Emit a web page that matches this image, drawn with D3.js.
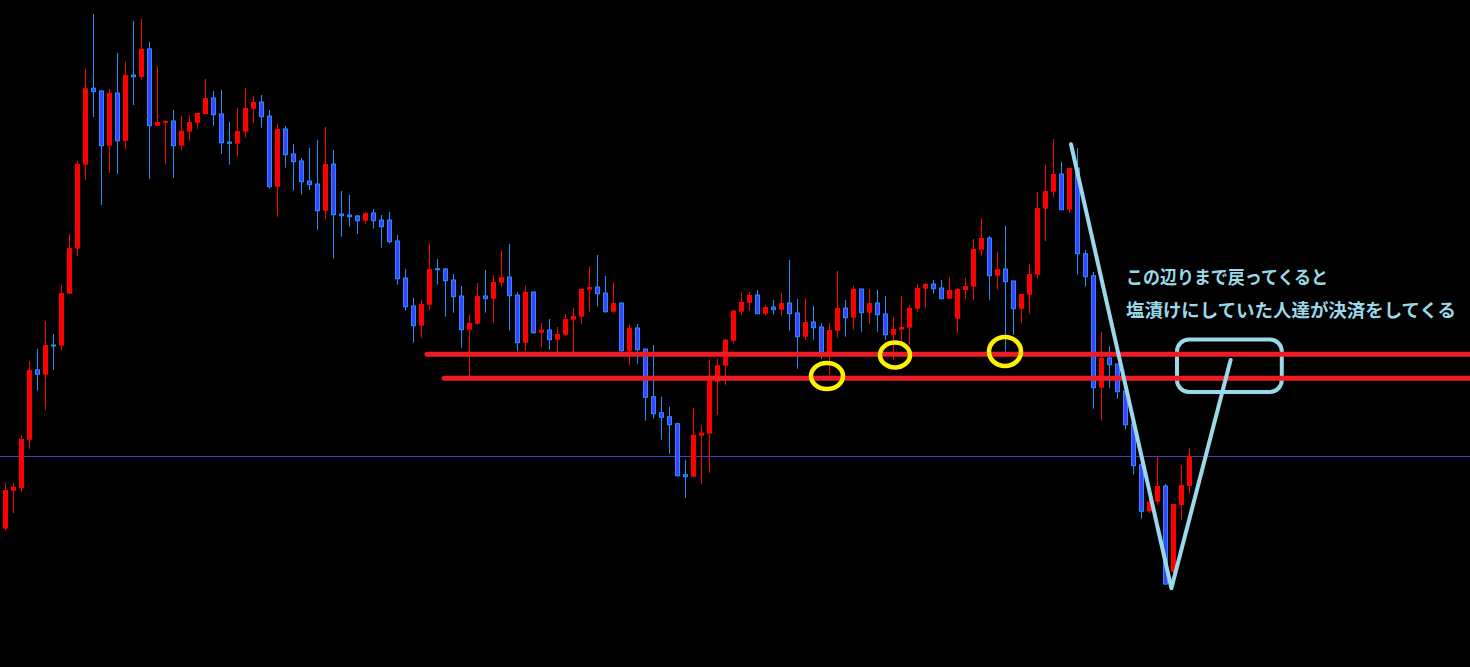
<!DOCTYPE html>
<html><head><meta charset="utf-8">
<script src="https://cdn.jsdelivr.net/npm/d3@7"></script>
<style>html,body{margin:0;padding:0;background:#000;overflow:hidden}</style>
</head><body>
<svg id="c" width="1470" height="667"></svg>
<script>
// OHLC price values (arbitrary price units), one per bar
const opens = [171.4,209.3,212,260.2,330.2,325.3,355,354.3,406.3,451.4,535.4,611.8,609,554.3,607,559.2,625,623.2,651.1,574.3,
577.3,579,554.3,568.3,577.3,586,602,586,558,556.3,568.3,591.3,598,584,513.3,571,546,539,519,516,
489.3,536,486,485,484,479.3,487,480,480,459,422,394,374.3,395.3,431.3,431,420,404,370.3,376.3,
404,401.3,417.3,423,405,357.3,408,367.3,370,360.3,365.3,380.3,383.3,410.3,413,407,388.3,397,349.3,372,
351,303.3,287.3,283.3,276.3,225.3,223.3,264.3,266.3,318.3,334.3,359.3,388.3,397.3,405,386.3,393,390.3,397,387,
363.3,378,373,347.3,369.3,392,382.3,411,387.3,397,386,365.3,370.3,372.3,391.3,411.3,416,412,401.3,381.3,
410,413.3,450.3,462,424.3,431,419,391.3,405.3,425.3,491.3,508.3,526,490.3,532,446.3,424.3,312.3,342,336,
309,276,235.3,188.7,198.3,214,128,195,214];
const highs = [217.2,217.2,265,339.1,351.2,379.1,366,415,466.2,539.2,631.1,685.9,610.1,611.2,647,638,679,681.1,658,634,
580,590,584,585,587,621,609,610,578,592.3,612,604,605,590,576,574,556,542,552,560,
573,550,509,505,485,488,491,485,488,465,431,402,400,457,441,432,426,414,385,417,
430,425,450,456,408,414,408,377,381,373,386,392,411,434,445,424,418,398,375,376,
351,355,303.3,293.3,277.3,240.3,292.3,274.3,340.3,341.3,361.3,390.3,407.3,408,410,395,400,407,440,401,
402,394,377,377,429,400,414,411,411,410,404,383,404,395,416,417,420,420,423,412,
422,461,482,464,448,474,419,406,436,508,535.3,561,538,532,552,450,428.3,368,354,336,
314,280,240,203,243.3,216,196,235,252.3];
const lows = [169.4,187,208.3,251.3,309.2,290.2,330.2,349.5,406.3,443.5,520.2,583,495.1,527.1,526.1,550.2,595,620.5,521,574,
536,522.3,549.3,559.3,571.3,585.3,574.3,546.3,535.3,543.3,562.3,577.3,572.3,511.3,483.3,532.3,509.3,505.3,510,470.3,
481.3,441.3,463.3,473.3,466.3,476.3,471.3,452.3,456.3,415.3,389.3,357.3,362.3,389.3,415.3,383.3,387.3,352.3,323.3,375.3,
387.3,377.3,413.3,369.3,349,349.3,366.3,353.3,350.3,347,364.3,347,376.3,388.3,393.3,387.3,387.3,348.3,334.3,336.3,
279.3,281.3,260.3,246.3,223.3,202.3,223.3,216.3,227.3,285.3,315.3,356.3,385.3,389.3,386.3,384.3,385.3,384.3,369.3,331.3,
360.3,360.3,341.3,325.3,362.3,363.3,370.3,368.3,376.3,368.3,360.3,340.3,355,355.3,388.3,392.3,406.3,401.3,401.3,366.3,
401.3,400.3,444.3,400.3,410.3,348.3,365.3,377.3,386.3,421.3,459,502.3,490.3,487.3,425.3,413.3,291.3,279.3,312.3,301.3,
270.7,225.3,181.3,187,195.3,115,122,180,206];
const closes = [210,213,261,330.2,325.7,355,354,407,452,536,611.8,608.4,554.3,607,559.2,625,623.2,651.1,574.3,578,
579,554.3,569,578,587,602,585.3,557.3,556.7,569,592,598,583.3,513.3,571,545.3,538.3,518.3,515.3,489.3,
536,485.3,484.3,483.3,479.3,487,479.3,473.3,458.3,421.3,393.3,374.3,396,431,430.3,419.3,403.3,370.3,377,404,
401.3,418,423,404.3,357.3,408,367.3,370.3,360.3,366,381,384,411,413,406.3,388.3,397,349.3,372,350.3,
302.7,286.3,282.7,275.3,224.3,223.3,265.3,267.3,322,335,360.3,389.3,398,405,386.3,393,390.3,397,386.3,363.3,
378,372.3,348.3,370,392,382.3,411,387.3,397,385.3,365.3,371,373,392,412,416,411.3,401.3,410,411,
414,451,462,424.3,431,418.3,391.3,406,426,492,509,526,490.3,532,446.3,423.3,312.3,342,335.3,308.3,
275.3,234.3,188.7,198.3,214,116,196,215,244];

// annotation levels (price units) and anchors (bar index units)
const supportLevels = [345.7, 321.7];
const supportStarts = [52.75, 54.9];
const baseLevel = 244;
const circles = [[102.75, 324, 16, 13], [111.25, 345, 15, 12.5], [125, 348.5, 16, 14.5]];
const vPath = [[133.25, 555.7], [145.8, 111.7], [153.2, 340]];
const box = {i0: 146.5, i1: 159.6, p0: 360.5, p1: 308};
const notes = ["この辺りまで戻ってくると", "塩漬けにしていた人達が決済をしてくる"];

const W = 1470, H = 667;
const svg = d3.select("#c");
svg.append("rect").attr("width", W).attr("height", H).attr("fill", "#000");

const data = opens.map((o, i) => ({i, o, h: highs[i], l: lows[i], c: closes[i]}));
const x = d3.scaleLinear().domain([0, 148]).range([5, 1189]);
const y = d3.scaleLinear().domain([33, 700]).range([667, 0]);

// base horizontal line
svg.append("line").attr("x1", 0).attr("x2", W)
  .attr("y1", Math.round(y(baseLevel)) + 0.5).attr("y2", Math.round(y(baseLevel)) + 0.5)
  .attr("stroke", "#4a3fc4").attr("stroke-width", 1);

const g = svg.append("g");
const up = d => d.c >= d.o;
g.selectAll("line.wick").data(data).join("line")
  .attr("x1", d => x(d.i) + 0.5).attr("x2", d => x(d.i) + 0.5)
  .attr("y1", d => y(d.h)).attr("y2", d => y(d.l))
  .attr("stroke", d => up(d) ? "#ff0000" : "#1e90ff").attr("stroke-width", 1);

g.selectAll("rect.up").data(data.filter(up)).join("rect")
  .attr("x", d => x(d.i) - 2).attr("width", 5)
  .attr("y", d => y(d.c)).attr("height", d => Math.max(1.5, y(d.o) - y(d.c)))
  .attr("fill", "#ff0000");

g.selectAll("rect.dn").data(data.filter(d => !up(d))).join("rect")
  .attr("x", d => x(d.i) - 1.5).attr("width", 4)
  .attr("y", d => y(d.o)).attr("height", d => Math.max(1, y(d.c) - y(d.o)))
  .attr("fill", "#4040ff").attr("stroke", "#1e90ff").attr("stroke-width", 1);

// rounded box
svg.append("rect")
  .attr("x", x(box.i0)).attr("y", y(box.p0))
  .attr("width", x(box.i1) - x(box.i0)).attr("height", y(box.p1) - y(box.p0))
  .attr("rx", 12).attr("ry", 12)
  .attr("fill", "none").attr("stroke", "#99d9ea").attr("stroke-width", 4);

// support lines
svg.selectAll("line.sup").data(supportLevels).join("line")
  .attr("x1", (d, k) => x(supportStarts[k])).attr("x2", W + 10)
  .attr("y1", d => y(d)).attr("y2", d => y(d))
  .attr("stroke", "#ed1c24").attr("stroke-width", 5).attr("stroke-linecap", "round");

// yellow circles
svg.selectAll("ellipse.c").data(circles).join("ellipse")
  .attr("cx", d => x(d[0])).attr("cy", d => y(d[1]))
  .attr("rx", d => d[2]).attr("ry", d => d[3])
  .attr("fill", "none").attr("stroke", "#fff200").attr("stroke-width", 4.5);

// V path
svg.append("path")
  .attr("d", d3.line().x(d => x(d[0])).y(d => y(d[1]))(vPath))
  .attr("fill", "none").attr("stroke", "#99d9ea").attr("stroke-width", 4)
  .attr("stroke-linejoin", "round").attr("stroke-linecap", "round");

// notes
const lens = [202, 330];
const bases = [283.5, 316.5];
notes.forEach((t, k) => {
  svg.append("text").attr("x", 1126).attr("y", bases[k])
    .attr("textLength", lens[k]).attr("lengthAdjust", "spacingAndGlyphs")
    .attr("font-family", "'Noto Sans CJK JP', 'Noto Sans', sans-serif")
    .attr("font-size", 18.3).attr("font-weight", "bold")
    .attr("fill", "#99d9ea").text(t);
});
</script>
</body></html>
